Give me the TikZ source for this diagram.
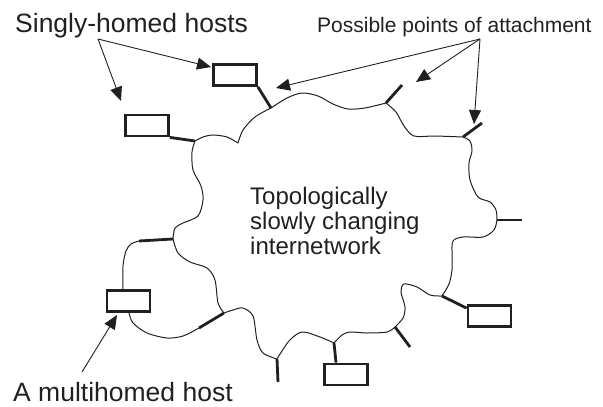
\documentclass[tikz,border=0pt]{standalone}
\usepackage{fontspec}
\setmainfont{Liberation Sans}
\usetikzlibrary{arrows.meta,calc}
\definecolor{ink}{RGB}{35,31,32}
\begin{document}
\begin{tikzpicture}[x=1pt,y=-1pt,
  host/.style={draw=ink, line width=2.8pt, minimum width=43pt, minimum height=21pt, inner sep=0pt},
  stub/.style={draw=ink, line width=2.8pt},
  edge/.style={draw=ink, line width=1pt},
  pointer/.style={draw=ink, line width=0.9pt, -{Triangle[length=14pt,width=12pt]}},
  lbl/.style={text=ink, inner sep=0pt, anchor=base west}]
\useasboundingbox (0,0) rectangle (603,407);

% hosts
\node[host] (h1) at (235,75) {};
\node[host] (h2) at (147,125.5) {};
\node[host] (h3) at (128.5,301) {};
\node[host] (h4) at (346,374.5) {};
\node[host] (h5) at (489.5,316) {};

% junctions on the cloud outline
\coordinate (A) at (195,141);
\coordinate (B) at (238,143);
\coordinate (C) at (271,108);
\coordinate (D) at (386,103);
\coordinate (E) at (463,137);
\coordinate (F) at (497,220);
\coordinate (G) at (442,296);
\coordinate (H) at (395,327);
\coordinate (I) at (334,343);
\coordinate (J) at (277,359);
\coordinate (K) at (224,313);
\coordinate (L) at (173,239);

% cloud
\draw[edge] plot[smooth] coordinates {(A) (203,137) (213,135) (227,137) (B)};
\draw[edge] plot[smooth] coordinates {(B) (243,130) (255,117) (C)};
\draw[edge] plot[smooth] coordinates {(C) (287,98) (302,93) (318,96) (333,104) (348,109) (365,108) (D)};
\draw[edge] plot[smooth] coordinates {(D) (396,112) (404,126) (414,136) (435,136) (E)};
\draw[edge] plot[smooth] coordinates {(E) (470,141) (472,151) (469,163) (470,180) (478,197) (490,202) (496,210) (F)};
\draw[edge] plot[smooth] coordinates {(F) (494,230) (483,237) (463,237) (453,241) (452,255) (452,270) (449,284) (G)};
\draw[edge] plot[smooth] coordinates {(G) (430,295) (417,287) (404,284) (401,292) (405,307) (403,318) (H)};
\draw[edge] plot[smooth] coordinates {(H) (387,332) (367,333) (350,332) (342,335) (I)};
\draw[edge] plot[smooth] coordinates {(I) (320,337) (302,332) (289,341) (J)};
\draw[edge] plot[smooth] coordinates {(J) (263,353) (257,340) (253,316) (243,308) (233,310) (K)};
\draw[edge] plot[smooth] coordinates {(K) (218,303) (215,280) (207,268) (190,262) (178,253) (L)};
\draw[edge] plot[smooth] coordinates {(L) (175,228) (183,223) (198,216) (203,200) (201,186) (193,170) (192,152) (A)};

% attachment stubs
\draw[stub] (h1.south east) -- (C);
\draw[stub] (h2.south east) -- (A);
\draw[stub] ([yshift=-4pt]h5.north west) -- (G);
\draw[stub] ([xshift=-10pt]h4.north) -- (I);
\coordinate (p1) at (402,85);
\coordinate (p2) at (482,123);
\coordinate (p3) at (522,220);
\coordinate (p4) at (410,347);
\coordinate (p5) at (278,382);
\draw[stub] (D) -- (p1);
\draw[stub] (E) -- (p2);
\draw[stub] (F) -- (p3);
\draw[stub] (H) -- (p4);
\draw[stub] (J) -- (p5);

% multihomed host connections
\coordinate (m1) at (139,241);
\coordinate (m2) at (199,328);
\draw[edge] plot[smooth] coordinates {([xshift=-5.5pt]h3.north) (123,266) (126,251) (131,244) (m1)};
\draw[stub] (m1) -- (L);
\draw[edge] plot[smooth] coordinates {([xshift=0.5pt]h3.south) (133,323) (147,333) (167,338) (183,336) (m2)};
\draw[stub] (m2) -- (K);

% labels
\node[lbl, font=\fontsize{26.5}{30}\selectfont] (ls) at (15,32) {Singly-homed hosts};
\node[lbl, font=\fontsize{21}{24}\selectfont] (lp) at (317,32) {Possible points of attachment};
\node[lbl, font=\fontsize{26.5}{30}\selectfont] (lm) at (13,401.5) {A multihomed host};
\node[text=ink, inner sep=0pt, anchor=north west, align=left, font=\fontsize{24}{25}\selectfont] (net) at (250,186.5) {Topologically\\slowly changing\\internetwork};

% pointers
\coordinate (so) at (98,39);
\coordinate (s1) at (211,67);
\coordinate (s2) at (121,101);
\draw[pointer] (so) -- (s1);
\draw[pointer] (so) -- (s2);
\coordinate (po) at (480,39);
\coordinate (t1) at (276,88);
\coordinate (t2) at (416,82);
\coordinate (t3) at (474,124);
\draw[pointer] (po) -- (t1);
\draw[pointer] (po) -- (t2);
\draw[pointer] (po) -- (t3);
\coordinate (mo) at (82,372);
\coordinate (mt) at (117,315);
\draw[pointer] (mo) -- (mt);
\end{tikzpicture}
\end{document}
